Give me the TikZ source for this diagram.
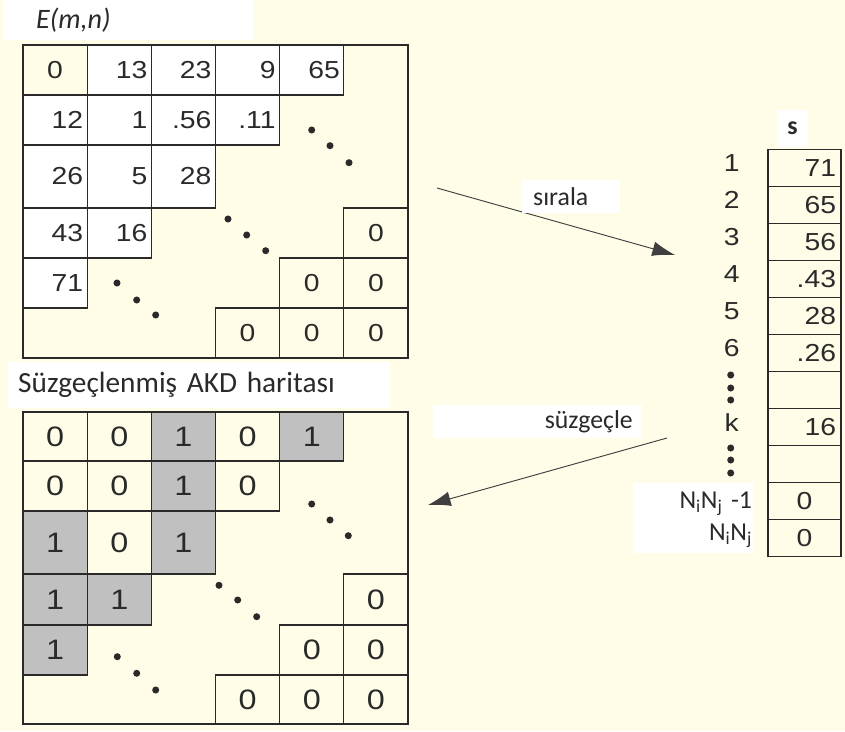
\documentclass[tikz,border=0pt]{standalone}
\usepackage{fontspec}
\setmainfont{Liberation Sans}[FakeStretch=1.15]
\newfontfamily\calibri{Carlito}
\usetikzlibrary{arrows.meta}
\definecolor{cream}{HTML}{FFFDE7}
\definecolor{ink}{HTML}{2A2A2A}
\definecolor{shade}{HTML}{C0C0C0}
\tikzset{
  cell/.style={draw=ink, line width=1pt, minimum width=64.2*0.03cm, inner sep=0pt,
    text=ink, font=\fontsize{21}{25}\selectfont},
  ncell/.style={cell, fill=white, text width=56*0.03cm, align=right},
  zcell/.style={cell, fill=cream, align=center},
  gcell/.style={cell, fill=shade, align=center},
  scell/.style={draw=ink, line width=1pt, minimum width=73*0.03cm, minimum height=37.1*0.03cm,
    inner sep=0pt, text=ink, font=\fontsize{21}{25}\selectfont, text width=63*0.03cm},
  idx/.style={text=ink, font=\fontsize{21}{25}\selectfont, inner sep=0pt},
  tag/.style={fill=white, inner ysep=0pt, text=ink, font=\calibri\fontsize{22}{26}\selectfont},
  frame/.style={draw=ink, line width=1pt},
  flow/.style={draw=ink!90, line width=0.8pt, -{Latex[length=0.68cm, width=0.44cm]}}
}
\begin{document}
\begin{tikzpicture}[x=0.03cm, y=-0.03cm]
\useasboundingbox (0,0) rectangle (845,731);
\fill[cream] (0,0) rectangle (845,731);
\def\toprows{{70,120,176.5,233,283,333}}
\def\tophgt{{50,50,63,50,50,50}}
\def\botrows{{436.5,486,542.5,599.5,650,699.5}}
\def\bothgt{{49,50,63,51,50,49}}
% E(m,n)
\node[tag, anchor=north west, minimum width=250*0.03cm, minimum height=40*0.03cm,
  text width=184*0.03cm, align=left, inner xsep=33*0.03cm,
  font=\calibri\itshape\fontsize{24}{28}\selectfont] (etitle) at (3,0) {E(m,n)};
\foreach \r/\c/\v in {1/2/13, 1/3/23, 1/4/9, 1/5/65, 2/1/12, 2/2/1, 2/3/.56, 2/4/.11,
  3/1/26, 3/2/5, 3/3/28, 4/1/43, 4/2/16, 5/1/71}{
  \pgfmathsetmacro\yc{\toprows[\r-1]}
  \pgfmathsetmacro\hc{\tophgt[\r-1]}
  \node[ncell, minimum height=\hc*0.03cm] (t-\r-\c) at ({23+64.17*(\c-0.5)},\yc) {\v};
}
\foreach \r/\c in {1/1, 4/6, 5/5, 5/6, 6/4, 6/5, 6/6}{
  \pgfmathsetmacro\yc{\toprows[\r-1]}
  \pgfmathsetmacro\hc{\tophgt[\r-1]}
  \node[zcell, minimum height=\hc*0.03cm] (t-\r-\c) at ({23+64.17*(\c-0.5)},\yc) {0};
}
\draw[frame] (23,45) rectangle (408,358);
\fill[ink] (311.7,130) circle (3pt) (330,145.7) circle (3pt) (349,162.7) circle (3pt)
  (228,219) circle (3pt) (246.7,235) circle (3pt) (265.7,250.7) circle (3pt)
  (117,283) circle (3pt) (136.7,300) circle (3pt) (155.7,315) circle (3pt);
% filtered map
\node[tag, anchor=west, minimum width=382*0.03cm, minimum height=46*0.03cm,
  text width=362*0.03cm, align=left, inner xsep=10*0.03cm,
  font=\calibri\fontsize{25}{29}\selectfont] (ftitle) at (8,385)
  {Süzgeçlenmiş AKD haritası};
\foreach \r/\c in {1/3, 1/5, 2/3, 3/1, 3/3, 4/1, 4/2, 5/1}{
  \pgfmathsetmacro\yc{\botrows[\r-1]}
  \pgfmathsetmacro\hc{\bothgt[\r-1]}
  \node[gcell, minimum height=\hc*0.03cm, font=\fontsize{24}{28}\selectfont]
    (b-\r-\c) at ({23+64.17*(\c-0.5)},\yc) {1};
}
\foreach \r/\c in {1/1, 1/2, 1/4, 2/1, 2/2, 2/4, 3/2, 4/6, 5/5, 5/6, 6/4, 6/5, 6/6}{
  \pgfmathsetmacro\yc{\botrows[\r-1]}
  \pgfmathsetmacro\hc{\bothgt[\r-1]}
  \node[zcell, minimum height=\hc*0.03cm, font=\fontsize{24}{28}\selectfont]
    (b-\r-\c) at ({23+64.17*(\c-0.5)},\yc) {0};
}
\draw[frame] (23,412) rectangle (408,724);
\fill[ink] (311.7,504) circle (3pt) (330,520) circle (3pt) (348.3,535.7) circle (3pt)
  (219,585.3) circle (3pt) (237.7,600) circle (3pt) (256.7,616.7) circle (3pt)
  (117.3,656.7) circle (3pt) (136.7,673.3) circle (3pt) (155.7,690) circle (3pt);
% sorted vector s
\node[tag, minimum width=31*0.03cm, minimum height=37*0.03cm, inner xsep=0pt,
  font=\calibri\bfseries\fontsize{22}{26}\selectfont] (shead) at (792.5,128.5) {s};
\foreach \i/\v in {1/71, 2/65, 3/56, 4/.43, 5/28, 6/.26, 7/{}, 8/16, 9/{}}{
  \node[scell, align=right] (s-\i) at (804.5,{149.3+37.05*(\i-0.5)}) {\v};
}
\foreach \i in {10,11}{
  \node[scell, align=center] (s-\i) at (804.5,{149.3+37.05*(\i-0.5)}) {0};
}
\foreach \i/\l in {1/1, 2/2, 3/3, 4/4, 5/5, 6/6, 8/k}{
  \node[idx] (i-\i) at (731.7,{144.3+37.05*(\i-0.5)}) {\l};
}
\fill[ink] (730.7,375) circle (3pt) (730.7,388) circle (3pt) (730.7,400) circle (3pt)
  (730.7,448) circle (3pt) (730.7,460) circle (3pt) (730.7,473) circle (3pt);
\node[tag, minimum width=120*0.03cm, minimum height=70*0.03cm, text width=118*0.03cm,
  inner xsep=1*0.03cm, align=right, font=\calibri\fontsize{22}{27}\selectfont] (nn) at (693,518)
  {\begin{tabular}{@{}r@{}}N\textsubscript{i}N\textsubscript{j} -1\\
   N\textsubscript{i}N\textsubscript{j}\end{tabular}};
% arrows
\coordinate (s1) at (437,188);
\coordinate (e1) at (675,255);
\coordinate (s2) at (667,438);
\coordinate (e2) at (428,505);
\draw[flow] (s1) -- (e1);
\draw[flow] (s2) -- (e2);
\node[tag, anchor=west, minimum width=98*0.03cm, minimum height=33*0.03cm,
  text width=76*0.03cm, inner xsep=11*0.03cm, align=left] (sirala) at (522,196.5) {sırala};
\node[tag, anchor=east, minimum width=209*0.03cm, minimum height=33*0.03cm,
  text width=191*0.03cm, inner xsep=9*0.03cm, align=right] (suzgecle) at (642,421.5) {süzgeçle};
\end{tikzpicture}
\end{document}
